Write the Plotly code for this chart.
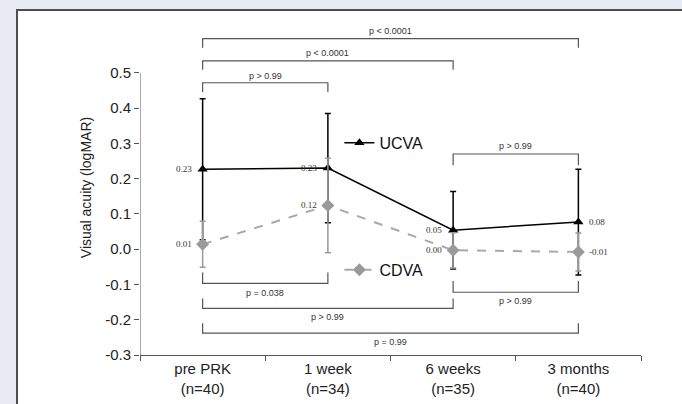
import plotly.graph_objects as go

# ---------------- data ----------------
categories = ["pre PRK<br>(n=40)", "1 week<br>(n=34)", "6 weeks<br>(n=35)", "3 months<br>(n=40)"]
ucva_mean = [0.227, 0.230, 0.054, 0.077]
ucva_sd = [0.200, 0.155, 0.110, 0.150]
ucva_labels = ["0.23", "0.23", "0.05", "0.08"]
cdva_mean = [0.014, 0.124, -0.003, -0.008]
cdva_sd = [0.065, 0.134, 0.050, 0.054]
cdva_labels = ["0.01", "0.12", "0.00", "-0.01"]

# comparison brackets: (from index, to index, bar level, leg end, text level, text)
brackets_top = [
    (0, 3, 0.597, 0.571, 0.620, "p < 0.0001"),
    (0, 2, 0.534, 0.509, 0.557, "p < 0.0001"),
    (0, 1, 0.472, 0.446, 0.491, "p > 0.99"),
    (2, 3, 0.270, 0.238, 0.292, "p > 0.99"),
]
brackets_bottom = [
    (0, 1, -0.097, -0.066, -0.125, "p = 0.038"),
    (2, 3, -0.122, -0.090, -0.148, "p > 0.99"),
    (0, 2, -0.168, -0.140, -0.193, "p > 0.99"),
    (0, 3, -0.238, -0.210, -0.264, "p = 0.99"),
]
y_ticks = [-0.3, -0.2, -0.1, 0.0, 0.1, 0.2, 0.3, 0.4, 0.5]

AX = "#555555"
TXT = "#222222"
GRAY = "#9a9a9a"
BG = "#E9EBF5"

fig = go.Figure()

fig.add_trace(go.Scatter(
    x=categories, y=ucva_mean, name="UCVA", mode="lines+markers",
    line=dict(color="black", width=1.5),
    marker=dict(symbol="triangle-up", size=9, color="black"),
    error_y=dict(type="data", array=ucva_sd, visible=True, color="black", thickness=1.5, width=3),
    legend="legend",
))
fig.add_trace(go.Scatter(
    x=categories, y=cdva_mean, name="CDVA", mode="lines+markers",
    line=dict(color="#a8a8a8", width=2, dash="dash"),
    marker=dict(symbol="diamond", size=10, color=GRAY),
    error_y=dict(type="data", array=cdva_sd, visible=True, color=GRAY, thickness=1.5, width=3),
    legend="legend2",
))

annotations = []
shapes = []

# background panel
shapes.append(dict(type="rect", xref="paper", yref="paper", x0=-0.2455, x1=1.3, y0=-0.4, y1=1.0299,
                   fillcolor="white", line=dict(color="#4d4d4d", width=2), layer="below"))

# y axis line (only from -0.3 to 0.5)
shapes.append(dict(type="line", xref="x", yref="y", x0=-0.5, x1=-0.5, y0=y_ticks[0], y1=y_ticks[-1],
                   line=dict(color=AX, width=1)))

for (a, b, lvl, leg, ty, t) in brackets_top + brackets_bottom:
    shapes.append(dict(type="path", xref="x", yref="y",
                       path=f"M {a},{leg} L {a},{lvl} L {b},{lvl} L {b},{leg}",
                       line=dict(color=AX, width=1.2)))
    annotations.append(dict(x=(a + b) / 2, y=ty, xref="x", yref="y", text=t, showarrow=False,
                            font=dict(family="Liberation Sans, Arial", size=9, color="#333333")))

# value labels
for means, labels in ((ucva_mean, ucva_labels), (cdva_mean, cdva_labels)):
    for i, (m, lab) in enumerate(zip(means, labels)):
        right = i == 3
        annotations.append(dict(x=i, y=m, xref="x", yref="y", text=lab, showarrow=False,
                                xanchor="left" if right else "right", xshift=9 if right else -9,
                                font=dict(family="Liberation Serif, Times New Roman", size=9, color="#333333")))

fig.update_layout(
    width=682, height=404,
    margin=dict(l=140, r=41, t=20, b=49),
    paper_bgcolor=BG,
    plot_bgcolor="rgba(0,0,0,0)",
    font=dict(family="Liberation Sans, Arial", size=15, color=TXT),
    shapes=shapes,
    annotations=annotations,
    legend=dict(x=0.398, y=0.633, xanchor="left", yanchor="middle", bgcolor="rgba(0,0,0,0)",
                font=dict(size=16, color="#111111"), itemwidth=30),
    legend2=dict(x=0.398, y=0.254, xanchor="left", yanchor="middle", bgcolor="rgba(0,0,0,0)",
                 font=dict(size=16, color="#111111"), itemwidth=30),
    showlegend=True,
)
fig.update_xaxes(
    type="category", range=[-0.5, 3.5], showline=True, linecolor=AX, linewidth=1,
    ticks="outside", tickson="boundaries", ticklen=5, tickcolor=AX, ticklabelstandoff=0,
    showgrid=False, zeroline=False, tickfont=dict(size=15, color=TXT), automargin=False,
)
fig.update_yaxes(
    range=[-0.3, 0.65], tickvals=y_ticks, ticktext=[f"{v:.1f}" for v in y_ticks],
    ticks="outside", ticklen=5, tickcolor=AX, showline=False, showgrid=False, zeroline=False,
    tickfont=dict(size=15, color=TXT), automargin=False,
    title=dict(text="Visual acuity (logMAR)", font=dict(size=14, color=TXT), standoff=10),
)

fig.write_html(
    "out.html",
    config={"displayModeBar": False},
    post_script=f"document.body.style.margin='0';document.body.style.background='{BG}';",
)
